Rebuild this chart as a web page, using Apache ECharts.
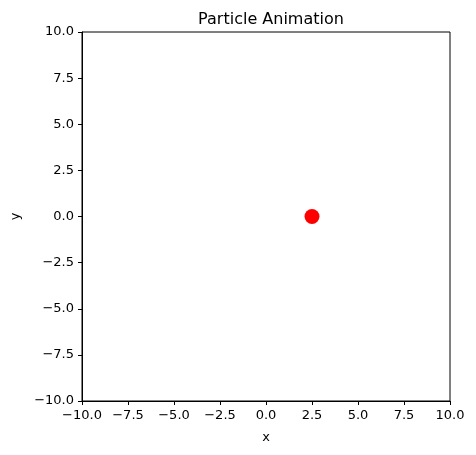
<!DOCTYPE html>
<html><head><meta charset="utf-8">
<script src="https://cdn.jsdelivr.net/npm/echarts@6/dist/echarts.min.js"></script>
<style>html,body{margin:0;padding:0;background:#fff}#c{width:476px;height:455px}</style>
</head><body><div id="c"></div>
<script>
const xValues = [2.5];
const yValues = [0.0];
const axisMin = -10, axisMax = 10, tickStep = 2.5;
const titleText = 'Particle Animation';
const xLabel = 'x', yLabel = 'y';

const chart = echarts.init(document.getElementById('c'), null, {renderer: 'canvas'});
const axisCommon = {
  min: axisMin, max: axisMax, interval: tickStep,
  axisLine: {show: true, onZero: false, lineStyle: {color: '#000', width: 1}},
  axisTick: {show: true, inside: false, length: 4, lineStyle: {color: '#000'}},
  axisLabel: {color: '#000', fontSize: 13, fontFamily: 'DejaVu Sans', formatter: v => v.toFixed(1).replace('-', '\u2212')},
  splitLine: {show: false},
  nameLocation: 'middle',
  nameTextStyle: {color: '#000', fontSize: 13, fontFamily: 'DejaVu Sans'}
};
chart.setOption({
  animation: false,
  title: {text: titleText, left: 266, top: 7, textAlign: 'center',
    textStyle: {fontSize: 16, fontWeight: 'normal', color: '#000', fontFamily: 'DejaVu Sans'}},
  grid: {left: 82, right: 26, top: 32, bottom: 54, show: true, borderColor: '#000', borderWidth: 1},
  xAxis: Object.assign({type: 'value', name: xLabel, nameGap: 30}, axisCommon),
  yAxis: Object.assign({type: 'value', name: yLabel, nameGap: 60}, axisCommon),
  series: [{type: 'scatter', data: xValues.map((x, i) => [x, yValues[i]]),
    symbolSize: 15, itemStyle: {color: '#ff0000', opacity: 1}}]
});
</script></body></html>
